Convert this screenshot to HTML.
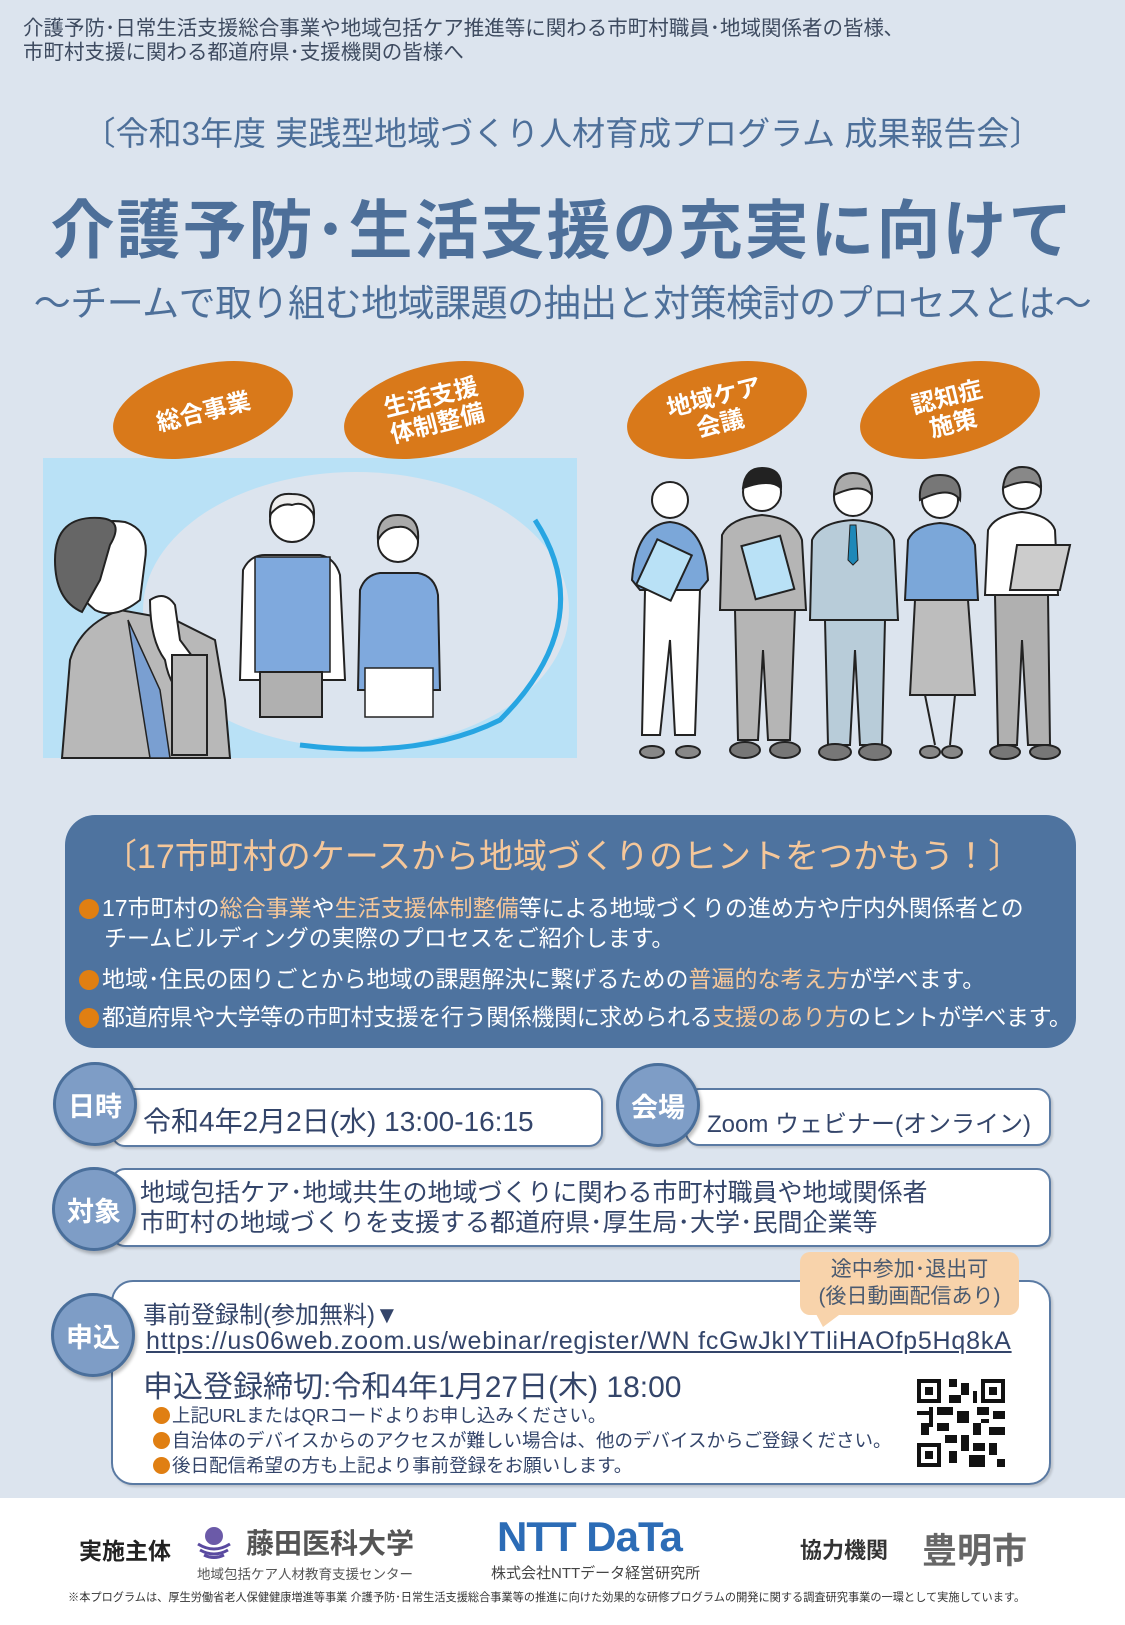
<!DOCTYPE html>
<html><head><meta charset="utf-8"><style>
*{margin:0;padding:0;box-sizing:border-box}
body{width:1125px;height:1625px;background:#dce4ee;position:relative;overflow:hidden;font-family:"Liberation Sans","Noto Sans CJK JP",sans-serif;color:#4d6f99}
.a{position:absolute;white-space:nowrap}
.circ{position:absolute;width:84px;height:84px;border-radius:50%;background:#7e9dc6;border:3px solid #4a6f9b;color:#fff;font-size:27px;font-weight:bold;display:flex;align-items:center;justify-content:center;box-shadow:2px 3px 3px rgba(0,0,0,.25);z-index:2}
.box{position:absolute;background:#fff;border:2px solid #5a7aa3;border-radius:14px;box-shadow:2px 2px 2px rgba(0,0,0,.15)}
.dk{color:#34456a}
.or{color:#f5c79a}
.dot{display:inline-block;width:20px;height:20px;border-radius:50%;background:#e07f12;vertical-align:-3px;margin-right:3px}
.sd{display:inline-block;width:17px;height:17px;border-radius:50%;background:#e07f12;vertical-align:-2px;margin-right:2px}
</style></head><body>

<div class="a" style="left:23px;top:17px;font-size:20.5px;line-height:24px;color:#3e4b60">介護予防･日常生活支援総合事業や地域包括ケア推進等に関わる市町村職員･地域関係者の皆様､<br>市町村支援に関わる都道府県･支援機関の皆様へ</div>

<div class="a" style="left:0;width:1125px;text-align:center;top:107px;font-size:33px;">〔令和3年度 実践型地域づくり人材育成プログラム 成果報告会〕</div>
<div class="a" style="left:0;width:1125px;text-align:center;top:180px;font-size:64px;font-weight:bold;letter-spacing:2px">介護予防･生活支援の充実に向けて</div>
<div class="a" style="left:0;width:1125px;text-align:center;top:273px;font-size:37px;letter-spacing:-0.5px">～チームで取り組む地域課題の抽出と対策検討のプロセスとは～</div>

<svg class="a" style="left:0;top:350px" width="1125" height="430" viewBox="0 350 1125 430">
<rect x="43" y="458" width="534" height="300" fill="#b9e1f6"/>
<ellipse cx="356" cy="610" rx="213" ry="138" fill="#dce4ee"/>
<path d="M535 520 Q600 620 500 720 Q420 760 300 745" fill="none" stroke="#27a5e2" stroke-width="5"/>
<path d="M62 758 L70 660 Q80 625 120 610 L175 620 L215 640 L225 700 L230 758 Z" fill="#b8b8b8" stroke="#222" stroke-width="2"/>
<path d="M128 620 L160 690 L170 758 L150 758 Z" fill="#7a9fd1" stroke="#222" stroke-width="1.5"/>
<path d="M70 560 Q80 515 125 522 Q150 530 145 560 L140 600 Q115 620 95 610 Q70 590 70 560Z" fill="#fff" stroke="#222" stroke-width="2"/>
<path d="M55 560 Q55 515 100 518 Q125 520 110 545 L100 580 L82 612 Q55 600 55 560Z" fill="#666" stroke="#222" stroke-width="2"/>
<path d="M150 600 Q165 590 175 605 L180 640 L195 660 L190 700 Q170 690 165 660 Q150 640 150 600Z" fill="#fff" stroke="#222" stroke-width="2"/>
<rect x="172" y="655" width="35" height="100" fill="#b8b8b8" stroke="#222" stroke-width="2"/>
<circle cx="292" cy="520" r="22" fill="#fff" stroke="#222" stroke-width="2"/>
<path d="M270 515 Q270 492 292 494 Q315 494 314 515 Q305 500 292 505 Q280 502 270 515Z" fill="#eee" stroke="#222" stroke-width="2"/>
<path d="M240 680 L243 570 Q250 555 265 555 L320 555 Q335 558 340 575 L345 680 Z" fill="#fff" stroke="#222" stroke-width="2"/>
<path d="M255 557 L330 557 L330 672 L255 672 Z" fill="#7fa9dd" stroke="#222" stroke-width="1.5"/>
<rect x="260" y="672" width="62" height="45" fill="#b0b0b0" stroke="#222" stroke-width="2"/>
<circle cx="398" cy="542" r="20" fill="#fff" stroke="#222" stroke-width="2"/>
<path d="M378 540 Q376 515 398 515 Q420 515 418 540 Q410 525 398 527 Q385 527 378 540Z" fill="#aaa" stroke="#222" stroke-width="2"/>
<path d="M358 690 L360 590 Q365 575 380 573 L418 573 Q435 576 438 595 L440 690 Z" fill="#7fa9dd" stroke="#222" stroke-width="2"/>
<rect x="365" y="668" width="68" height="49" fill="#fff" stroke="#222" stroke-width="1.5"/>

<g fill="#d9791a">
<ellipse cx="203" cy="410" rx="92" ry="45" transform="rotate(-14 203 410)"/>
<ellipse cx="434" cy="410" rx="92" ry="45" transform="rotate(-14 434 410)"/>
<ellipse cx="717" cy="410" rx="92" ry="45" transform="rotate(-14 717 410)"/>
<ellipse cx="950" cy="410" rx="92" ry="45" transform="rotate(-14 950 410)"/>
</g>
<g fill="#fff" font-size="24" font-family="Noto Sans CJK JP,sans-serif" font-weight="bold" text-anchor="middle">
<text x="203" y="420" transform="rotate(-14 203 410)">総合事業</text>
<text x="434" y="405" transform="rotate(-14 434 410)">生活支援</text>
<text x="434" y="432" transform="rotate(-14 434 410)">体制整備</text>
<text x="717" y="405" transform="rotate(-14 717 410)">地域ケア</text>
<text x="717" y="432" transform="rotate(-14 717 410)">会議</text>
<text x="950" y="405" transform="rotate(-14 950 410)">認知症</text>
<text x="950" y="432" transform="rotate(-14 950 410)">施策</text>
</g>

<g stroke="#222" stroke-width="2">
<circle cx="670" cy="500" r="18" fill="#fff"/>
<path d="M632 580 Q636 525 670 522 Q705 525 708 580 L700 590 L640 590Z" fill="#7ba7d9"/>
<path d="M645 590 L700 590 L695 735 L675 735 L670 640 L660 735 L642 735Z" fill="#fff"/>
<rect x="645" y="545" width="38" height="50" fill="#b9e1f6" transform="rotate(25 664 570)"/>
<ellipse cx="652" cy="752" rx="12" ry="6" fill="#888"/><ellipse cx="688" cy="752" rx="12" ry="6" fill="#888"/>
<circle cx="762" cy="492" r="19" fill="#fff"/>
<path d="M743 488 Q745 468 762 468 Q782 468 781 488 Q770 478 743 488Z" fill="#222"/>
<path d="M720 610 L722 535 Q730 518 762 515 Q795 518 802 540 L806 610Z" fill="#b5b5b5"/>
<path d="M735 610 L795 610 L790 740 L768 740 L763 650 L758 740 L738 740Z" fill="#b5b5b5"/>
<rect x="748" y="540" width="40" height="55" fill="#b9e1f6" transform="rotate(-15 768 568)"/>
<ellipse cx="745" cy="750" rx="15" ry="8" fill="#777"/><ellipse cx="785" cy="750" rx="15" ry="8" fill="#777"/>
<circle cx="853" cy="497" r="19" fill="#fff"/>
<path d="M834 495 Q835 473 853 473 Q872 473 872 495 Q862 482 834 495Z" fill="#aaa"/>
<path d="M810 620 L812 540 Q820 522 853 520 Q888 522 894 540 L898 620Z" fill="#b8ccd9"/>
<path d="M825 620 L885 620 L882 745 L860 745 L855 650 L850 745 L828 745Z" fill="#b8ccd9"/>
<path d="M850 525 L856 525 L858 560 L853 565 L848 560Z" fill="#1d88b8" stroke-width="1"/>
<ellipse cx="835" cy="752" rx="16" ry="8" fill="#777"/><ellipse cx="875" cy="752" rx="16" ry="8" fill="#777"/>
<circle cx="940" cy="500" r="18" fill="#fff"/>
<path d="M920 500 Q918 475 940 475 Q963 475 960 500 Q950 485 920 500Z" fill="#777"/>
<path d="M905 600 L908 540 Q915 525 940 523 Q968 525 975 545 L978 600Z" fill="#7ba7d9"/>
<path d="M915 600 L968 600 L975 695 L910 695Z" fill="#bdbdbd"/>
<path d="M925 695 L935 745 M955 695 L950 745" fill="none"/>
<ellipse cx="930" cy="752" rx="10" ry="6" fill="#888"/><ellipse cx="952" cy="752" rx="10" ry="6" fill="#888"/>
<circle cx="1022" cy="490" r="19" fill="#fff"/>
<path d="M1003 488 Q1005 467 1022 467 Q1042 467 1041 488 Q1030 476 1003 488Z" fill="#888"/>
<path d="M985 595 L988 530 Q995 515 1022 512 Q1050 515 1055 530 L1058 595Z" fill="#fff"/>
<path d="M995 595 L1048 595 L1050 745 L1028 745 L1022 640 L1017 745 L998 745Z" fill="#b0b0b0"/>
<path d="M1017 545 L1070 545 L1060 590 L1010 590Z" fill="#ccc"/>
<ellipse cx="1005" cy="752" rx="15" ry="7" fill="#777"/><ellipse cx="1045" cy="752" rx="15" ry="7" fill="#777"/>
</g>
</svg>

<div class="a" style="left:65px;top:815px;width:1011px;height:233px;background:#4e739f;border-radius:30px"></div>
<div class="a or" style="left:0;width:1125px;text-align:center;top:829px;font-size:34px;">〔17市町村のケースから地域づくりのヒントをつかもう！〕</div>
<div class="a" style="left:79px;top:893px;font-size:23px;line-height:30px;color:#fff"><span class="dot"></span>17市町村の<span class="or">総合事業</span>や<span class="or">生活支援体制整備</span>等による地域づくりの進め方や庁内外関係者との<br><span style="margin-left:25px">チームビルディングの実際のプロセスをご紹介します。</span></div>
<div class="a" style="left:79px;top:964px;font-size:23px;line-height:30px;color:#fff"><span class="dot"></span>地域･住民の困りごとから地域の課題解決に繋げるための<span class="or">普遍的な考え方</span>が学べます。</div>
<div class="a" style="left:79px;top:1002px;font-size:23px;line-height:30px;color:#fff;letter-spacing:-0.4px"><span class="dot"></span>都道府県や大学等の市町村支援を行う関係機関に求められる<span class="or">支援のあり方</span>のヒントが学べます。</div>

<div class="box" style="left:111px;top:1088px;width:492px;height:59px"></div>
<div class="circ" style="left:53px;top:1062px">日時</div>
<div class="a dk" style="left:143px;top:1100px;font-size:28px;">令和4年2月2日(水) 13:00-16:15</div>
<div class="box" style="left:685px;top:1088px;width:366px;height:58px"></div>
<div class="circ" style="left:616px;top:1063px">会場</div>
<div class="a dk" style="left:707px;top:1104px;font-size:24px;">Zoom ウェビナー(オンライン)</div>

<div class="box" style="left:111px;top:1168px;width:940px;height:79px"></div>
<div class="circ" style="left:52px;top:1167px">対象</div>
<div class="a dk" style="left:140px;top:1178px;font-size:25px;line-height:30px">地域包括ケア･地域共生の地域づくりに関わる市町村職員や地域関係者<br>市町村の地域づくりを支援する都道府県･厚生局･大学･民間企業等</div>

<div class="box" style="left:111px;top:1280px;width:940px;height:205px;border-radius:22px"></div>
<div class="circ" style="left:51px;top:1293px">申込</div>
<div class="a" style="left:800px;top:1252px;width:219px;height:63px;background:#f8d3ab;border-radius:10px;color:#4a5a70;font-size:21px;line-height:27px;text-align:center;padding-top:4px">途中参加･退出可<br>(後日動画配信あり)</div>
<div class="a" style="left:815px;top:1312px;width:0;height:0;border-left:8px solid transparent;border-right:20px solid transparent;border-top:15px solid #f8d3ab"></div>
<div class="a dk" style="left:143px;top:1295px;font-size:24px;">事前登録制(参加無料)▼</div>
<div class="a dk" style="left:146px;top:1327px;font-size:25px;letter-spacing:0.8px;text-decoration:underline">https://us06web.zoom.us/webinar/register/WN fcGwJkIYTliHAOfp5Hq8kA</div>
<div class="a dk" style="left:143px;top:1362px;font-size:30px;">申込登録締切:令和4年1月27日(木) 18:00</div>
<div class="a dk" style="left:153px;top:1403px;font-size:18.5px;line-height:25px"><span class="sd"></span>上記URLまたはQRコードよりお申し込みください。<br><span class="sd"></span>自治体のデバイスからのアクセスが難しい場合は、他のデバイスからご登録ください。<br><span class="sd"></span>後日配信希望の方も上記より事前登録をお願いします。</div>
<svg class="a" style="left:917px;top:1379px" width="88" height="88" viewBox="0 0 22 22">
<rect width="22" height="22" fill="#fff"/>
<g fill="#111"><rect x="0" y="0" width="6" height="6"/><rect x="16" y="0" width="6" height="6"/><rect x="0" y="16" width="6" height="6"/></g>
<g fill="#fff"><rect x="1" y="1" width="4" height="4"/><rect x="17" y="1" width="4" height="4"/><rect x="1" y="17" width="4" height="4"/></g>
<g fill="#111"><rect x="2" y="2" width="2" height="2"/><rect x="18" y="2" width="2" height="2"/><rect x="2" y="18" width="2" height="2"/>
<path d="M8 0h2v2h-2zM11 1h2v3h-2zM8 4h3v2h-3zM14 3h1v3h-1zM0 8h3v1h-3zM5 7h4v2h-4zM10 8h3v3h-3zM15 7h3v2h-3zM19 8h3v2h-3zM1 11h2v3h-2zM5 11h3v2h-3zM14 11h2v3h-2zM18 12h4v2h-4zM7 14h3v2h-3zM11 14h2v4h-2zM8 18h2v3h-2zM14 16h3v2h-3zM18 16h2v3h-2zM13 19h4v3h-4zM20 20h2v2h-2zM3 7h1v5h-1zM16 10h2v1h-2z"/></g>
</svg>

<div class="a" style="left:0;top:1498px;width:1125px;height:127px;background:#fff"></div>
<div class="a" style="left:79px;top:1532px;font-size:23px;font-weight:bold;color:#222">実施主体</div>
<svg class="a" style="left:196px;top:1524px" width="36" height="36"><circle cx="18" cy="12" r="9" fill="#6b5aa8"/><path d="M2 20 Q18 30 34 20 M4 26 Q18 34 32 26 M8 31 Q18 36 28 31" stroke="#5a4aa0" stroke-width="3" fill="none"/></svg>
<div class="a" style="left:246px;top:1522px;font-size:28px;font-weight:bold;color:#555">藤田医科大学</div>
<div class="a" style="left:197px;top:1563px;font-size:13.5px;color:#555">地域包括ケア人材教育支援センター</div>
<div class="a" style="left:497px;top:1513px;font-size:42px;font-weight:bold;color:#2c6cb6;letter-spacing:-1px;font-family:'Liberation Sans',sans-serif">NTT DaTa</div>
<div class="a" style="left:491px;top:1562px;font-size:15px;color:#444">株式会社NTTデータ経営研究所</div>
<div class="a" style="left:800px;top:1533px;font-size:22px;font-weight:bold;color:#333">協力機関</div>
<div class="a" style="left:922px;top:1523px;font-size:35px;font-weight:bold;color:#666">豊明市</div>
<div class="a" style="left:68px;top:1589px;font-size:11.2px;color:#333">※本プログラムは、厚生労働省老人保健健康増進等事業 介護予防･日常生活支援総合事業等の推進に向けた効果的な研修プログラムの開発に関する調査研究事業の一環として実施しています。</div>
</body></html>
